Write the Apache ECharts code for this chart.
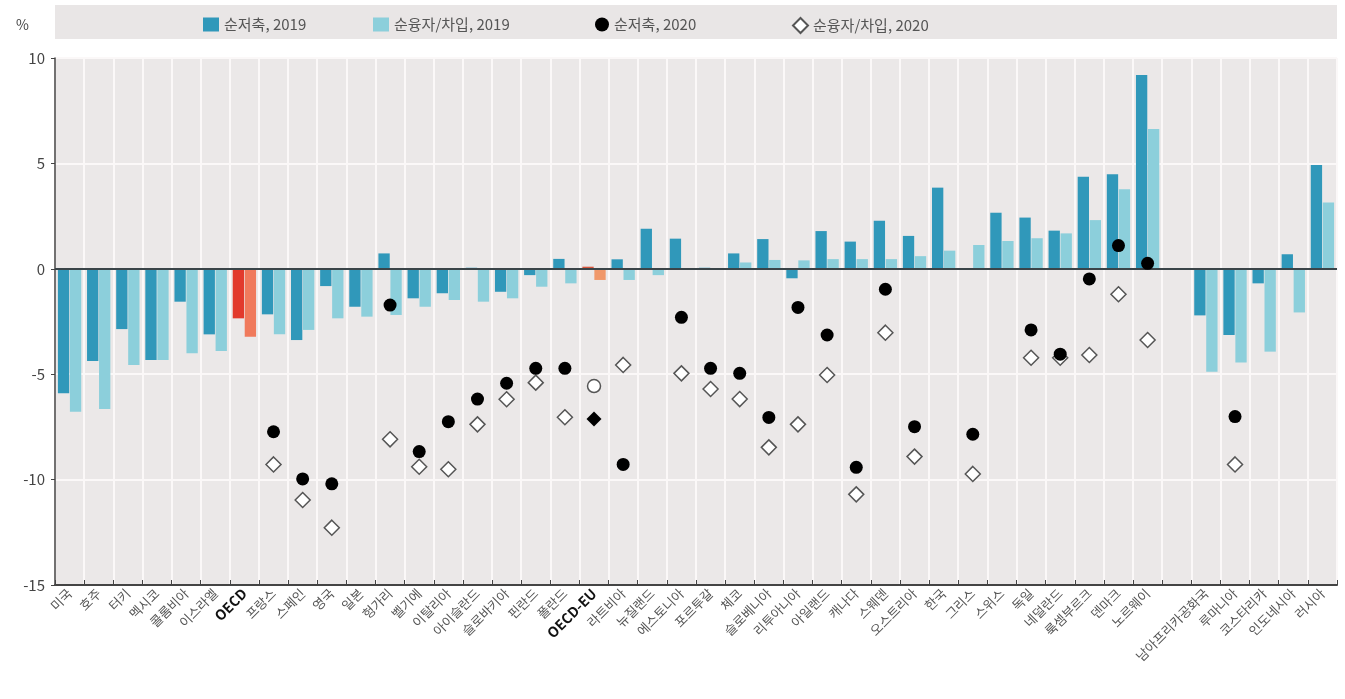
<!DOCTYPE html>
<html><head><meta charset="utf-8">
<script src="https://cdn.jsdelivr.net/npm/echarts@6/dist/echarts.min.js"></script>
<style>html,body{margin:0;padding:0;background:#fff}#c{width:1345px;height:699px}</style>
</head><body><div id="c"></div>
<script>
const categories = ['미국','호주','터키','멕시코','콜롬비아','이스라엘','OECD','프랑스','스페인','영국','일본','헝가리','벨기에','이탈리아','아이슬란드','슬로바키아','핀란드','폴란드','OECD-EU','라트비아','뉴질랜드','에스토니아','포르투갈','체코','슬로베니아','리투아니아','아일랜드','캐나다','스웨덴','오스트리아','한국','그리스','스위스','독일','네덜란드','룩셈부르크','덴마크','노르웨이','','남아프리카공화국','루마니아','코스타리카','인도네시아','러시아'];
const netSaving2019 = [-5.9,-4.37,-2.86,-4.33,-1.56,-3.11,-2.35,-2.16,-3.38,-0.82,-1.8,0.73,-1.4,-1.16,0.05,-1.09,-0.3,0.47,0.1,0.45,1.9,1.43,0.05,0.73,1.41,-0.45,1.79,1.29,2.28,1.56,3.85,-0.05,2.66,2.43,1.81,4.37,4.48,9.19,null,-2.21,-3.14,-0.69,0.69,4.92];
const netLending2019 = [-6.78,-6.65,-4.56,-4.33,-4.01,-3.9,-3.22,-3.11,-2.9,-2.35,-2.27,-2.19,-1.8,-1.48,-1.56,-1.4,-0.85,-0.69,-0.53,-0.53,-0.3,-0.05,0.03,0.3,0.42,0.4,0.46,0.46,0.46,0.6,0.86,1.13,1.32,1.45,1.68,2.31,3.77,6.63,null,-4.88,-4.44,-3.93,-2.07,3.14];
const netSaving2020 = [null,null,null,null,null,null,null,-7.73,-9.97,-10.2,null,-1.72,-8.67,-7.25,-6.18,-5.43,-4.72,-4.72,-5.56,-9.28,null,-2.3,-4.72,-4.96,-7.05,-1.83,-3.14,-9.42,-0.97,-7.49,null,-7.85,null,-2.9,-4.05,-0.48,1.1,0.26,null,null,-7.01,null,null,null];
const netLending2020 = [null,null,null,null,null,null,null,-9.28,-10.97,-12.28,null,-8.09,-9.39,-9.51,-7.38,-6.19,-5.4,-7.04,-7.12,-4.56,null,-4.96,-5.7,-6.18,-8.47,-7.38,-5.04,-10.7,-3.03,-8.91,null,-9.73,null,-4.22,-4.22,-4.09,-1.21,-3.38,null,null,-9.28,null,null,null];
const seriesNames = ['순저축, 2019','순융자/차입, 2019','순저축, 2020','순융자/차입, 2020'];
const yTicks = {min:-15, max:10, interval:5};

const FONT = 'Noto Sans CJK KR';
const C_DARK = '#3098ba', C_LIGHT = '#8ccfdb';
const special = {
  'OECD': {dark:'#e23a2c', light:'#f07a5c'},
  'OECD-EU': {dark:'#d8553c', light:'#f0986a'}
};
function barData(vals, key){
  return vals.map((v,i)=>{
    const s = special[categories[i]];
    return s ? {value:v, itemStyle:{color:s[key]}} : v;
  });
}
const openStyle = {color:'#ffffff', borderColor:'#555', borderWidth:1.5};
const fillStyle = {color:'#000', borderColor:'#000', borderWidth:0};
const s20 = netSaving2020.map((v,i)=> categories[i]==='OECD-EU' ? {value:v, itemStyle:openStyle} : v);
const l20 = netLending2020.map((v,i)=> categories[i]==='OECD-EU' ? {value:v, itemStyle:fillStyle} : v);

const chart = echarts.init(document.getElementById('c'));
const legendBase = {top:12, itemWidth:16, itemHeight:14, itemGap:10, textStyle:{fontFamily:FONT, fontSize:15, color:'#555'}, selectedMode:false};
chart.setOption({
  animation:false,
  textStyle:{fontFamily:FONT},
  graphic:[
    {type:'rect', z:-1, shape:{x:55,y:5,width:1282,height:34}, style:{fill:'#e9e6e6'}},
    {type:'text', left:16, top:18, style:{text:'%', font:'14px "Noto Sans CJK KR"', fill:'#444'}}
  ],
  legend:[
    Object.assign({}, legendBase, {left:198, data:[{name:seriesNames[0], icon:'rect'}]}),
    Object.assign({}, legendBase, {left:368, data:[{name:seriesNames[1], icon:'rect'}]}),
    Object.assign({}, legendBase, {left:590, itemWidth:14, itemHeight:14, data:[{name:seriesNames[2], icon:'circle'}]}),
    Object.assign({}, legendBase, {left:787, itemWidth:15, itemHeight:15, data:[{name:seriesNames[3], icon:'diamond'}]})
  ],
  grid:{left:55, right:8, top:58, bottom:114, show:true, backgroundColor:'#ebe8e8', borderWidth:0},
  xAxis:{
    type:'category', data:categories, boundaryGap:true,
    axisLine:{onZero:false, lineStyle:{color:'#444', width:2}},
    axisTick:{show:true, inside:true, length:5, interval:0, lineStyle:{color:'#444'}},
    splitLine:{show:true, interval:0, lineStyle:{color:'#fbf8f8', width:2}},
    axisLabel:{
      interval:0, rotate:45, margin:6, fontSize:13, color:'#555', fontFamily:FONT,
      formatter:(v)=> special[v] ? '{b|'+v+'}' : v,
      rich:{b:{fontWeight:'bold', color:'#111', fontSize:14, fontFamily:FONT}}
    }
  },
  yAxis:{
    type:'value', min:yTicks.min, max:yTicks.max, interval:yTicks.interval,
    axisLine:{show:true, lineStyle:{color:'#444', width:1.5}},
    axisTick:{show:true, length:4, lineStyle:{color:'#444'}},
    splitLine:{show:true, lineStyle:{color:'#fbf8f8', width:2}},
    axisLabel:{fontSize:15, color:'#444', margin:10, fontFamily:FONT}
  },
  series:[
    {name:seriesNames[0], type:'bar', data:barData(netSaving2019,'dark'), itemStyle:{color:C_DARK}, barGap:'6%', barCategoryGap:'20%',
     markLine:{silent:true, symbol:'none', label:{show:false}, lineStyle:{color:'#3a4448', width:2, type:'solid'}, data:[{yAxis:0}], z:5}},
    {name:seriesNames[1], type:'bar', data:barData(netLending2019,'light'), itemStyle:{color:C_LIGHT}},
    {name:seriesNames[2], type:'scatter', data:s20, symbol:'circle', symbolSize:13, itemStyle:{color:'#000', opacity:1}, z:10},
    {name:seriesNames[3], type:'scatter', data:l20, symbol:'diamond', symbolSize:15, itemStyle:{color:'#ffffff', borderColor:'#555', borderWidth:1.5, opacity:1}, z:9}
  ]
});
</script></body></html>
